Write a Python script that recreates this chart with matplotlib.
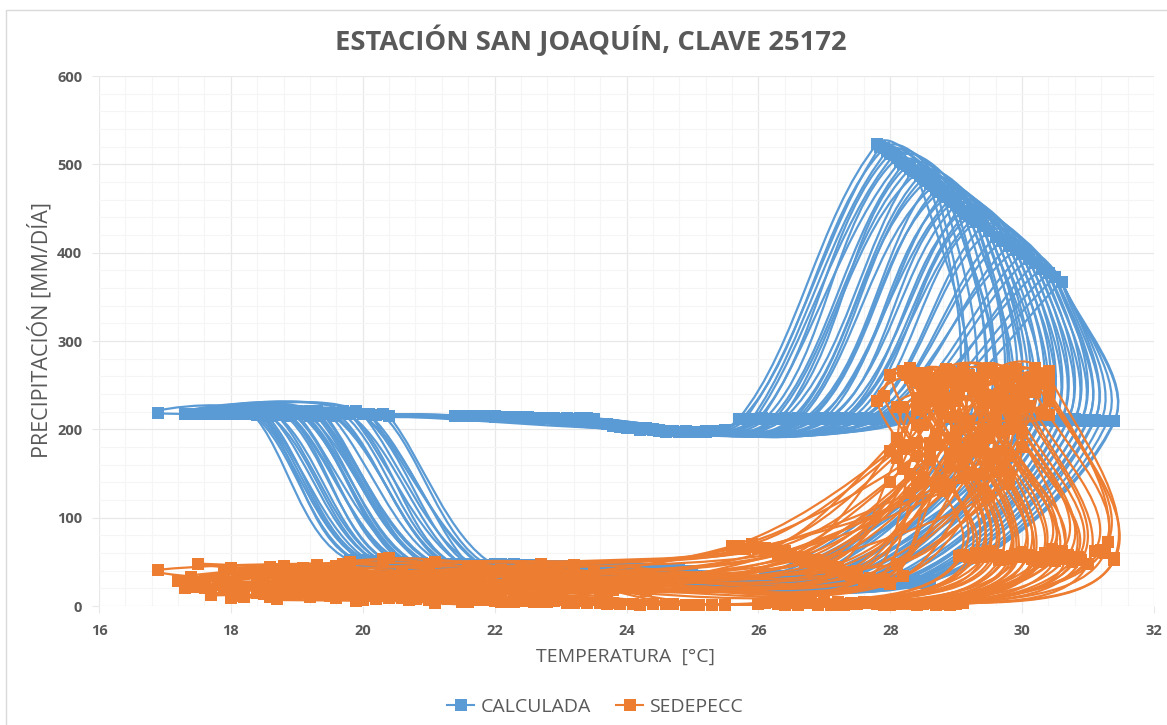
import numpy as np
import matplotlib
matplotlib.use('Agg')
import matplotlib.pyplot as plt
from matplotlib.path import Path
from matplotlib.patches import PathPatch, Rectangle

plt.rcParams['font.family'] = ['Open Sans', 'DejaVu Sans']

title = 'ESTACIÓN SAN JOAQUÍN, CLAVE 25172'
xlabel = 'TEMPERATURA  [°C]'
ylabel = 'PRECIPITACIÓN [MM/DÍA]'
series_names = ['CALCULADA', 'SEDEPECC']
xticks = [16, 18, 20, 22, 24, 26, 28, 30, 32]
yticks = [0, 100, 200, 300, 400, 500, 600]

# one list per stage of the yearly loop, one entry per loop
# CALCULADA
calc_t_a2 = [19.5,18.7,19.9,19.2,18.3,19.3,18.9,20.1,18.5,19.7,19.0,18.6,19.4,18.3,19.8,18.9,19.2,20.3,18.8,19.6,18.4,20.0,19.1,18.7,19.3,19.9,18.9,18.4,19.5,19.0,20.4,18.6,19.7,19.0,19.4,18.5,20.1,19.2,18.8,19.8,18.4,19.6,19.1,19.3]
calc_p_a2 = [218,216,220,217,219,215,220,217,216,221,218,215,219,220,217,216,221,217,218,215,220,217,219,216,218,221,215,219,217,220,215,216,218,221,217,219,217,215,220,218,216,219,217,221]
calc_t_a1 = [17.9,18.2,17.4,18.6,16.9,19.0,17.6,19.4,18.0,17.5,18.8,17.3,19.2,17.7,18.4,18.1,17.5,19.6,17.8,18.5,17.4,19.8,18.3,17.6,18.9,17.9,18.2,17.3,19.1,17.7,20.2,18.0,18.7,17.5,19.3,17.8,20.0,18.4,17.4,19.5,17.6,18.6,18.1,18.9]
calc_p_a1 = [217,217,217,217,218,217,217,217,217,217,217,217,217,217,217,217,217,217,217,217,217,217,217,217,217,217,217,217,217,217,216,217,217,217,217,217,217,217,217,217,217,217,217,217]
calc_t_b = [21.5,21.7,22.0,21.4,20.4,22.3,21.8,22.6,21.6,23.0,22.1,21.5,23.4,21.9,22.4,22.8,21.7,23.2,22.2,21.5,21.6,22.9,23.5,22.0,21.8,22.5,23.1,21.4,22.7,22.3,23.3,21.9,22.1,23.0,21.6,22.4,22.8,21.7,23.2,22.0,21.5,22.6,23.4,21.8]
calc_p_b = [215,215,215,215,215,214,215,213,215,212,214,215,213,215,214,213,215,212,214,215,215,213,212,214,215,214,213,215,213,214,213,215,214,212,215,214,213,215,212,214,215,213,212,215]
calc_t_c = [24.2,24.6,23.9,24.9,24.3,25.1,24.0,25.3,24.5,23.7,24.8,24.1,25.4,24.4,24.7,25.0,23.8,25.2,24.6,24.2,23.9,24.9,25.4,24.3,24.0,24.7,25.1,23.8,24.5,25.3,24.8,24.1,24.4,25.0,23.7,24.6,25.2,24.2,24.9,24.0,23.9,24.7,25.5,24.3]
calc_p_c = [199,197,203,197,200,197,202,198,198,206,197,201,198,199,198,197,204,197,197,200,203,198,198,200,202,198,197,205,199,198,197,201,200,197,206,198,198,200,197,203,204,198,199,201]
calc_t_d1 = [25.7,25.8,25.75,25.9,26.0,25.95,26.1,26.05,26.2,26.3,26.25,26.4,26.35,26.5,26.6,26.55,26.7,26.65,26.8,26.75,26.9,27.0,26.95,27.1,27.05,27.2,27.3,27.25,27.4,27.35,27.5,27.55,27.6,27.7,27.65,27.8,27.75,27.9,28.0,28.1,27.95,28.2,28.3,28.4]
calc_p_d1 = [212,212,212,212,212,212,212,213,212,212,212,213,212,212,213,212,212,213,212,212,213,212,212,213,212,212,213,212,212,213,212,212,213,212,213,212,212,213,212,212,213,212,213,212]
calc_t_e = [27.8,27.85,27.9,27.95,28.0,28.05,28.1,28.15,28.2,28.25,28.3,28.35,28.4,28.45,28.5,28.55,28.6,28.65,28.7,28.75,28.8,28.85,28.9,28.95,29.0,29.05,29.1,29.15,29.2,29.25,29.3,29.4,29.5,29.6,29.7,29.8,29.9,30.0,30.1,30.2,30.3,30.4,30.5,30.6]
calc_p_e = [523,520,518,515,512,510,507,503,500,498,495,493,490,487,484,481,478,475,472,469,466,463,460,457,454,450,447,444,441,438,435,430,424,418,413,408,403,398,393,388,382,377,372,367]
calc_t_e2 = [28.6,28.4,28.9,28.7,29.1,28.8,29.3,28.9,29.0,29.4,29.2,28.9,29.6,29.3,29.5,29.7,29.2,29.8,29.5,29.9,29.4,30.0,29.6,30.1,29.8,29.5,30.2,29.9,30.3,30.0,30.4,30.1,30.5,30.2,30.5,30.3,30.6,30.4,30.6,30.5,30.6,30.6,30.6,30.6]
calc_p_e2 = [478,490,460,472,447,466,435,460,454,430,441,460,418,435,424,413,441,408,424,403,430,398,418,393,408,424,388,403,382,398,377,393,372,388,372,382,367,377,367,372,367,367,367,367]
calc_t_d2 = [28.9,29.1,29.3,29.0,29.4,29.2,29.6,29.5,29.3,29.8,29.7,29.5,30.0,29.6,29.9,30.1,29.8,30.2,30.0,30.3,29.9,30.4,30.2,30.5,30.3,30.1,30.6,30.4,30.7,30.5,30.8,30.6,30.9,30.7,31.0,30.8,31.1,30.9,31.2,31.0,31.3,31.1,31.4,31.4]
calc_p_d2 = [212,212,212,212,212,212,211,212,212,212,211,212,211,212,211,211,212,211,211,212,211,211,212,210,211,212,210,211,212,210,211,212,210,211,210,212,210,211,210,211,210,211,210,209]
calc_t_f = [26.1,26.4,26.2,26.6,26.3,26.8,26.5,27.0,26.7,27.2,26.9,26.4,27.3,27.0,27.5,26.8,27.4,27.1,27.6,27.3,27.0,27.8,27.5,27.9,27.7,27.2,28.0,27.6,28.1,27.8,28.2,27.9,28.3,28.0,28.4,28.1,28.5,28.2,28.6,28.3,28.6,28.4,28.5,28.6]
calc_p_f = [36,34,35,32,34,31,33,30,32,29,31,33,29,30,28,31,28,30,27,29,30,27,28,27,28,29,26,28,26,27,26,27,26,27,26,27,26,27,27,27,28,27,28,29]
calc_t_g2 = [22.4,23.1,22.0,24.2,22.7,24.8,23.4,23.8,22.2,24.5,23.0,22.6,25.0,23.6,22.9,24.0,22.3,24.6,23.3,23.9,22.5,24.3,23.2,22.8,24.9,23.5,22.1,24.1,23.7,22.7,24.4,23.0,25.0,22.4,23.8,24.7,23.1,22.6,24.2,23.4,22.9,24.5,23.6,24.0]
calc_p_g2 = [45,44,47,42,46,41,44,43,46,42,45,46,40,43,45,42,47,41,44,43,46,42,44,45,40,43,47,42,43,46,41,45,40,46,43,41,45,46,42,44,45,41,43,42]
calc_t_g = [21.2,20.3,21.6,20.8,19.9,21.0,20.5,21.8,20.1,21.4,20.7,20.2,21.1,19.8,21.5,20.6,20.9,21.9,20.4,21.3,20.0,21.7,20.8,20.3,21.0,21.6,20.5,19.9,21.2,20.7,22.0,20.2,21.4,20.6,21.1,20.1,21.8,20.9,20.4,21.5,20.0,21.3,20.7,21.0]
calc_p_g = [48,50,47,49,52,48,50,46,51,47,49,51,48,52,47,50,48,46,50,48,51,46,49,50,48,47,50,52,48,49,46,51,47,50,48,51,46,49,50,47,52,48,49,48]

# SEDEPECC
sed_t_h = [21.2,22.4,23.6,21.8,23.0,24.1,21.4,22.7,23.9,22.1,21.6,23.3,24.4,22.9,21.1,23.7,22.3,24.0,21.9,23.2,22.6,21.5,24.3,23.5,22.0,21.7,23.1,24.2,22.5,21.3,23.8,22.2,24.5,21.0,23.4,22.8,24.6,21.8,23.0,22.4,24.1,21.6,23.6,22.7]
sed_p_h = [24,38,16,44,28,20,34,48,25,18,42,31,22,36,50,15,40,27,19,46,33,26,17,37,23,45,29,21,41,30,18,35,24,47,32,20,28,39,16,43,26,37,22,34]
sed_t_a1 = [17.4,18.2,18.9,17.3,18.5,19.2,17.6,18.0,19.4,17.5,18.7,17.2,19.0,18.3,16.9,18.8,17.8,19.3,18.1,17.5,18.6,17.7,19.1,17.4,18.4,17.9,19.5,17.6,18.2,19.6,17.3,18.9,18.0,17.5,19.2,18.5,17.7,19.0,18.3,17.5,18.7,19.4,17.9,18.1]
sed_p_a1 = [22,36,18,28,14,42,20,9,24,47,31,28,12,38,41,16,26,34,11,22,44,19,27,33,15,37,23,30,10,45,20,13,43,26,17,35,12,29,40,21,8,32,18,25]
sed_t_a2 = [18.9,19.4,20.0,18.4,19.6,20.3,18.7,19.1,20.4,18.6,19.9,18.2,20.2,19.3,18.1,19.8,18.9,20.4,19.2,18.7,19.7,18.8,20.1,18.5,19.5,19.0,20.3,18.8,19.3,19.8,18.5,20.0,19.1,18.7,20.2,19.6,18.9,20.1,19.4,18.6,19.9,20.4,19.0,19.2]
sed_p_a2 = [18,42,12,33,9,53,25,16,30,44,22,36,8,46,28,14,38,54,10,24,48,17,32,41,11,35,20,45,13,50,27,7,43,19,15,37,21,29,40,10,6,31,23,26]
sed_t_a3 = [20.0,20.8,21.5,19.6,21.0,22.0,20.4,20.9,22.3,19.9,21.4,20.2,22.4,21.1,19.5,21.7,20.3,22.5,20.7,20.1,21.6,19.7,22.2,20.5,21.3,20.0,21.9,20.6,20.4,22.1,19.8,21.5,21.0,20.9,21.2,21.8,22.3,20.8,20.2,21.6,21.1,21.9,22.0,20.5]
sed_p_a3 = [12,30,8,24,7,38,17,11,20,33,14,26,6,34,20,9,28,40,7,16,36,13,22,31,8,25,15,36,9,41,19,5,33,13,10,28,15,21,30,7,5,23,16,18]
sed_t_b = [20.8,21.6,22.4,21.1,22.9,23.7,21.4,22.1,24.2,20.6,23.1,21.9,24.6,22.6,20.9,23.4,21.3,24.9,22.0,21.7,23.9,20.7,25.1,22.3,23.6,21.2,24.4,22.8,21.5,25.3,20.5,23.2,22.5,24.1,21.8,23.8,25.5,22.2,21.0,24.7,22.7,23.3,25.0,21.6]
sed_p_b = [8,5,10,3,6,2,12,4,1,9,3,7,2,5,11,3,14,1,6,8,2,10,1,5,3,9,2,4,7,1,13,3,6,2,8,3,1,5,10,2,4,6,1,7]
sed_t_c = [26.0,26.3,26.6,26.2,26.9,27.4,26.4,27.0,27.8,26.1,27.2,26.7,28.2,27.1,26.5,27.6,26.3,28.4,26.8,27.3,28.0,26.2,28.6,27.5,27.9,26.6,28.1,27.2,26.9,28.5,26.4,27.7,27.3,28.3,26.7,28.0,29.1,27.4,26.5,28.7,27.6,29.0,28.9,28.8]
sed_p_c = [2,3,1,4,2,3,1,5,2,3,1,6,2,1,3,4,2,1,3,2,1,4,3,2,1,3,2,5,1,2,4,3,1,2,3,1,3,2,4,1,3,2,1,2]
sed_t_d = [29.1,29.2,29.3,29.05,29.4,29.5,29.25,29.6,29.7,29.35,29.8,29.55,29.9,30.0,29.65,30.1,29.75,30.2,29.45,30.3,29.85,30.4,29.95,30.5,30.05,30.6,30.15,30.7,30.25,30.8,30.35,30.9,30.45,31.0,30.55,31.1,30.65,31.2,30.75,31.3,30.85,31.4,31.25,31.4]
sed_p_d = [58,56,60,57,55,62,54,58,56,60,53,57,55,61,52,58,54,56,60,52,57,54,59,51,55,62,53,58,50,56,60,52,64,48,57,62,53,63,50,72,55,54,60,52]
sed_t_e = [28.0,27.9,28.2,27.8,28.3,28.5,28.1,28.4,28.7,28.25,28.6,28.35,28.8,28.9,28.45,29.0,28.55,29.1,28.65,29.2,28.75,29.3,28.85,29.4,28.95,29.5,29.05,29.6,29.15,29.7,29.25,29.8,29.35,29.9,29.45,30.0,29.55,30.1,29.65,30.2,29.75,30.4,30.3,30.4]
sed_p_e = [262,238,266,232,258,264,225,255,250,262,240,258,262,230,252,248,264,268,235,256,260,245,268,228,262,270,240,262,252,235,258,266,246,262,230,252,268,256,240,264,248,262,255,240]
sed_t_e2 = [28.6,28.3,28.8,28.4,29.0,29.1,28.7,28.9,29.3,28.8,29.2,29.0,29.4,29.5,29.1,29.6,29.2,29.7,29.3,29.8,29.4,29.9,29.5,30.0,29.6,30.1,29.7,30.2,29.8,30.3,29.9,30.3,30.0,30.4,30.1,30.4,30.2,30.4,30.3,30.4,30.2,30.1,29.9,30.0]
sed_p_e2 = [255,270,248,262,240,258,235,265,250,228,262,245,268,235,256,220,250,264,242,230,258,268,238,225,262,248,232,270,252,218,244,260,236,266,226,254,242,216,262,232,250,258,222,246]
sed_t_e3 = [28.2,28.5,28.4,28.6,28.7,29.0,28.3,29.2,28.8,28.6,29.4,28.4,29.1,29.6,28.5,29.3,29.4,29.6,28.6,29.0,29.5,28.8,29.8,29.2,28.4,29.9,28.9,29.7,29.1,29.4,29.7,28.9,30.0,28.5,29.5,29.0,29.8,29.2,29.9,28.7,29.5,30.0,29.3,29.7]
sed_p_e3 = [225,240,205,232,195,215,180,210,238,185,200,222,178,228,205,188,240,212,170,232,195,218,200,175,235,208,190,226,172,240,198,214,180,228,190,245,170,205,224,182,236,196,244,176]
sed_t_f = [28.0,28.1,28.6,28.2,28.3,28.9,28.0,29.1,28.4,28.5,29.3,28.1,28.7,29.4,28.2,28.8,29.0,29.5,28.3,28.6,29.2,28.4,29.6,28.9,28.1,29.7,28.5,29.3,28.8,29.0,29.4,28.6,29.8,28.2,29.1,28.7,29.5,28.9,29.6,28.4,29.2,29.8,29.0,29.4]
sed_p_f = [175,190,165,182,150,172,140,160,185,145,150,168,135,178,155,140,192,165,128,180,148,170,152,135,186,160,142,175,130,188,150,166,138,178,145,195,125,158,172,140,184,150,198,132]
sed_t_g = [25.6,26.1,26.5,25.9,26.9,27.3,26.3,26.0,27.6,26.7,25.8,27.1,27.9,26.4,26.2,27.4,26.8,28.0,26.6,27.0,27.7,25.7,28.2,27.2,26.5,27.5,26.9,27.8,26.3,27.3,28.0,26.7,27.6,26.1,27.1,27.9,26.8,27.4,26.4,27.7,27.0,28.1,26.6,27.5]
sed_p_g = [68,62,55,70,48,38,58,66,30,50,64,42,27,60,65,35,52,26,56,46,32,68,34,44,58,40,52,28,60,36,25,54,30,66,45,31,50,38,62,29,48,48,56,33]

calc_knots = [(calc_t_a2, calc_p_a2), (calc_t_a1, calc_p_a1), (calc_t_b, calc_p_b), (calc_t_c, calc_p_c),
              (calc_t_d1, calc_p_d1), (calc_t_e, calc_p_e), (calc_t_e2, calc_p_e2), (calc_t_d2, calc_p_d2),
              (calc_t_f, calc_p_f), (calc_t_g2, calc_p_g2), (calc_t_g, calc_p_g)]
sed_knots = [(sed_t_h, sed_p_h), (sed_t_a1, sed_p_a1), (sed_t_a2, sed_p_a2), (sed_t_a3, sed_p_a3),
             (sed_t_b, sed_p_b), (sed_t_c, sed_p_c), (sed_t_d, sed_p_d), (sed_t_e, sed_p_e),
             (sed_t_e2, sed_p_e2), (sed_t_e3, sed_p_e3), (sed_t_f, sed_p_f), (sed_t_g, sed_p_g)]

BLUE = '#5B9BD5'
ORANGE = '#ED7D31'
GREY = '#595959'
PX = np.array([66.0, 0.883])  # pixels per data unit, handles are worked out on screen


def smooth_path(x, y):
    # closed smoothed line through the points, handle length follows the segment so short hops don't overshoot
    pts = np.column_stack([x, y]) * PX
    n = len(pts)
    tang = []
    for i in range(n):
        d = pts[(i + 1) % n] - pts[i - 1]
        tang.append(d / max(np.hypot(*d), 1e-6))
    verts = [pts[0]]
    codes = [Path.MOVETO]
    for i in range(n):
        j = (i + 1) % n
        seg = np.hypot(*(pts[j] - pts[i])) * 0.3
        verts += [pts[i] + tang[i] * seg, pts[j] - tang[j] * seg, pts[j]]
        codes += [Path.CURVE4] * 3
    return Path(np.array(verts) / PX, codes)


def draw_series(ax, knots, color, z):
    xs = np.array([k[0] for k in knots])
    ys = np.array([k[1] for k in knots])
    for j in range(xs.shape[1]):
        ax.add_patch(PathPatch(smooth_path(xs[:, j], ys[:, j]), fill=False, edgecolor=color,
                               lw=1.6, zorder=z))
    ax.plot(xs.ravel(), ys.ravel(), ls='none', marker='s', ms=8.5, color=color, mew=0,
            clip_on=False, zorder=z + 0.5)


fig = plt.figure(figsize=(11.67, 7.25), dpi=100)
ax = fig.add_axes([99 / 1167, 1 - 606 / 725, (1154 - 99) / 1167, (606 - 76) / 725])

fig.add_artist(Rectangle((6 / 1167, -0.01), 1.1, 1 - 10 / 725 + 0.01, transform=fig.transFigure,
                         fill=False, edgecolor='#d9d9d9', lw=1))

draw_series(ax, calc_knots, BLUE, 3)
draw_series(ax, sed_knots, ORANGE, 5)
ax.plot([], [], '-s', color=BLUE, lw=1.5, ms=8.5, mew=0, label=series_names[0])
ax.plot([], [], '-s', color=ORANGE, lw=1.5, ms=8.5, mew=0, label=series_names[1])

ax.set_xlim(16, 32)
ax.set_ylim(0, 600)
ax.set_xticks(xticks)
ax.set_yticks(yticks)
ax.set_xticks(np.arange(16, 32.01, 0.4), minor=True)
ax.set_yticks(np.arange(0, 600.1, 20), minor=True)
ax.grid(which='major', color='#e8e8e8', lw=0.9)
ax.grid(which='minor', color='#f5f5f5', lw=0.8)
ax.set_axisbelow(True)
for s in ax.spines.values():
    s.set_visible(False)
ax.tick_params(which='major', length=5, color='#e8e8e8', labelcolor=GREY, labelsize=10.5, pad=7)
ax.tick_params(axis='x', which='major', pad=8)
ax.tick_params(which='minor', length=0)
for lab in ax.get_xticklabels() + ax.get_yticklabels():
    lab.set_fontweight('bold')

fig.text(591 / 1167, 1 - 40 / 725, title, ha='center', va='center', fontsize=19.7, fontweight='bold', color=GREY)
fig.text(626 / 1167, 1 - 657 / 725, xlabel, ha='center', va='center', fontsize=14, color=GREY)
fig.text(40 / 1167, 1 - 330 / 725, ylabel, ha='center', va='center', rotation=90, fontsize=15.5, color=GREY)
ax.legend(loc='center', bbox_to_anchor=(595 / 1167, 1 - 707 / 725), bbox_transform=fig.transFigure, ncol=2,
          frameon=False, fontsize=14, labelcolor=GREY, handlelength=1.4, handletextpad=0.3, columnspacing=1.3)

fig.savefig('out.png', dpi=100)
